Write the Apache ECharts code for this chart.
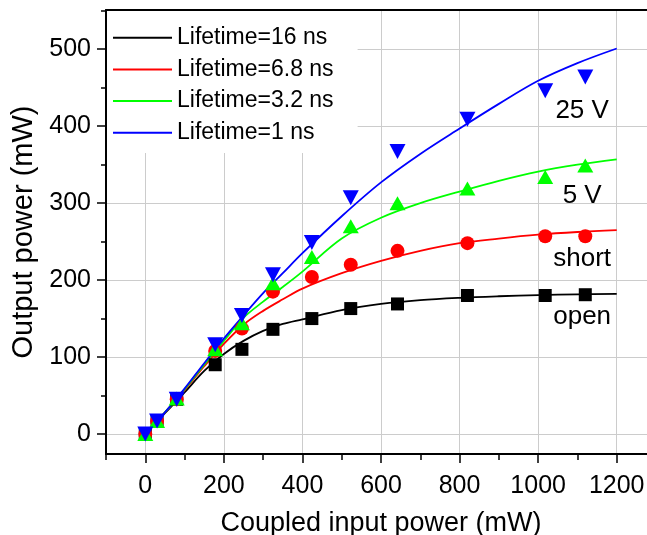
<!DOCTYPE html>
<html>
<head>
<meta charset="utf-8">
<script src="https://cdn.jsdelivr.net/npm/echarts@6/dist/echarts.min.js"></script>
<style>
html,body{margin:0;padding:0;background:#fff;overflow:hidden;}
#c{width:660px;height:535px;}
</style>
</head>
<body>
<div id="c"></div>
<script>
// ---- tick values ----
const xTicks = [0, 200, 400, 600, 800, 1000, 1200];
const xMinorTicks = [-100, 100, 300, 500, 700, 900, 1100, 1300];
const yTicks = [0, 100, 200, 300, 400, 500];
const yMinorTicks = [50, 150, 250, 350, 450, 550];

// ---- model curves (lines) ----
const curveX = [0, 50, 100, 150, 200, 250, 300, 350, 400, 500, 600, 700, 800, 900, 1000, 1100, 1200];
const curve16ns  = [0, 27, 54, 82, 104, 121, 134, 143, 149, 161, 169, 174, 177, 179, 180.5, 181.5, 182];
const curve6p8ns = [0, 28, 57, 88, 117, 142, 160, 175, 189, 209, 225, 238, 248, 254, 259, 262.5, 265];
const curve3p2ns = [0, 28, 58, 90, 121, 151, 172, 191, 211, 254, 281, 300, 315, 329, 341, 350, 357];
const curve1ns   = [0, 28, 59, 92, 124, 154, 183, 209, 235, 283, 327, 364, 397, 429, 459, 482, 501];

// ---- measured points ----
const measX   = [0, 30, 80, 178, 246, 325, 424, 523, 642, 820, 1018, 1120];
const measOpen  = [0, 17, 45, 90, 110, 136, 150, 163, 169, 180, 180, 181];
const measShort = [0, 17, 45, 108, 137, 185, 204, 220, 238, 248, 257, 257];
const meas5V    = [0, 17, 46, 110, 144, 196, 230, 270, 300, 319, 334, 349];
const meas25V   = [0, 17, 45, 116, 154, 207, 249, 307, 367, 409, 446, 464];

// ---- annotations ----
const annoText = ['25 V', '5 V', 'short', 'open'];
const annoX = [1112, 1112, 1112, 1112];
const annoY = [420, 309, 227, 152];

const lineNames = ['Lifetime=16 ns', 'Lifetime=6.8 ns', 'Lifetime=3.2 ns', 'Lifetime=1 ns'];
const colors = ['#000000', '#ff0000', '#00ff00', '#0000ff'];

const zip = (xs, ys) => xs.map((x, i) => [x, ys[i]]);
const curves = [curve16ns, curve6p8ns, curve3p2ns, curve1ns];
const meas = [measOpen, measShort, meas5V, meas25V];
const symbols = ['rect', 'circle', 'triangle', 'triangle'];
const symSizes = [13, 14, [16, 14], [16, 15]];
const symRot = [0, 0, 0, 180];

const FONT = '"Liberation Sans", Arial, sans-serif';

const series = [];
curves.forEach((c, i) => {
  series.push({
    name: lineNames[i], type: 'line', data: zip(curveX, c), smooth: 0.35,
    showSymbol: false, symbol: 'none', lineStyle: { color: colors[i], width: 1.8 },
    itemStyle: { color: colors[i] }, xAxisIndex: 0, yAxisIndex: 0, z: 2
  });
});
meas.forEach((m, i) => {
  series.push({
    name: 'm' + i, type: 'scatter', data: zip(measX, m), symbol: symbols[i],
    symbolSize: symSizes[i], symbolRotate: symRot[i],
    itemStyle: { color: colors[i], opacity: 1 }, xAxisIndex: 0, yAxisIndex: 0, z: 3
  });
});
series.push({
  name: 'anno', type: 'scatter', symbolSize: 0, xAxisIndex: 0, yAxisIndex: 0, z: 4,
  itemStyle: { opacity: 1 },
  data: annoText.map((t, i) => ({ value: [annoX[i], annoY[i]], name: t })),
  label: { show: true, position: 'inside', formatter: p => p.name, color: '#000',
           fontSize: 26, fontFamily: FONT, align: 'center', verticalAlign: 'middle' }
});

const grid = { left: 106, top: 10, width: 550, height: 444, containLabel: false, outerBoundsMode: 'none' };
const fmt = v => String(v);

const option = {
  animation: false,
  backgroundColor: '#fff',
  grid: grid,
  legend: {
    data: lineNames, orient: 'vertical', left: 107, top: 11,
    padding: [15.2, 24, 8.7, 6], backgroundColor: '#fff',
    icon: 'rect', itemWidth: 59, itemHeight: 2, itemGap: 8.7,
    textStyle: { fontSize: 23, fontFamily: FONT, color: '#000', lineHeight: 23 }
  },
  xAxis: [
    {
      type: 'value', min: -100, max: 1300, position: 'bottom',
      name: 'Coupled input power (mW)', nameLocation: 'middle', nameGap: 56,
      nameTextStyle: { fontSize: 27, fontFamily: FONT, color: '#000' },
      axisLine: { show: true, onZero: false, lineStyle: { color: '#000', width: 2 } },
      axisTick: { show: true, inside: false, length: 9, customValues: xTicks, lineStyle: { color: '#000', width: 1.5 } },
      axisLabel: { customValues: xTicks, formatter: fmt, margin: 20, fontSize: 25, fontFamily: FONT, color: '#000' },
      splitLine: { show: true, lineStyle: { color: '#cccccc', width: 1 } }
    },
    {
      type: 'value', min: -100, max: 1300, position: 'bottom',
      axisLine: { show: false, onZero: false },
      axisTick: { show: true, inside: false, length: 6, customValues: xMinorTicks, lineStyle: { color: '#000', width: 1.5 } },
      axisLabel: { show: false }, splitLine: { show: false }
    },
    {
      type: 'value', min: -100, max: 1300, position: 'top',
      axisLine: { show: true, onZero: false, lineStyle: { color: '#000', width: 2 } },
      axisTick: { show: false }, axisLabel: { show: false }, splitLine: { show: false }
    }
  ],
  yAxis: [
    {
      type: 'value', min: -26, max: 551, position: 'left',
      name: 'Output power (mW)', nameLocation: 'middle', nameGap: 67,
      nameTextStyle: { fontSize: 29, fontFamily: FONT, color: '#000' },
      axisLine: { show: true, onZero: false, lineStyle: { color: '#000', width: 2 } },
      axisTick: { show: true, inside: false, length: 9, customValues: yTicks, lineStyle: { color: '#000', width: 1.5 } },
      axisLabel: { customValues: yTicks, formatter: fmt, margin: 15, fontSize: 25, fontFamily: FONT, color: '#000' },
      splitLine: { show: true, lineStyle: { color: '#cccccc', width: 1 } }
    },
    {
      type: 'value', min: -26, max: 551, position: 'left',
      axisLine: { show: false, onZero: false },
      axisTick: { show: true, inside: false, length: 5, customValues: yMinorTicks, lineStyle: { color: '#000', width: 1.5 } },
      axisLabel: { show: false }, splitLine: { show: false }
    }
  ],
  series: series
};

const chart = echarts.init(document.getElementById('c'), null, { renderer: 'canvas' });
chart.setOption(option);
</script>
</body>
</html>
